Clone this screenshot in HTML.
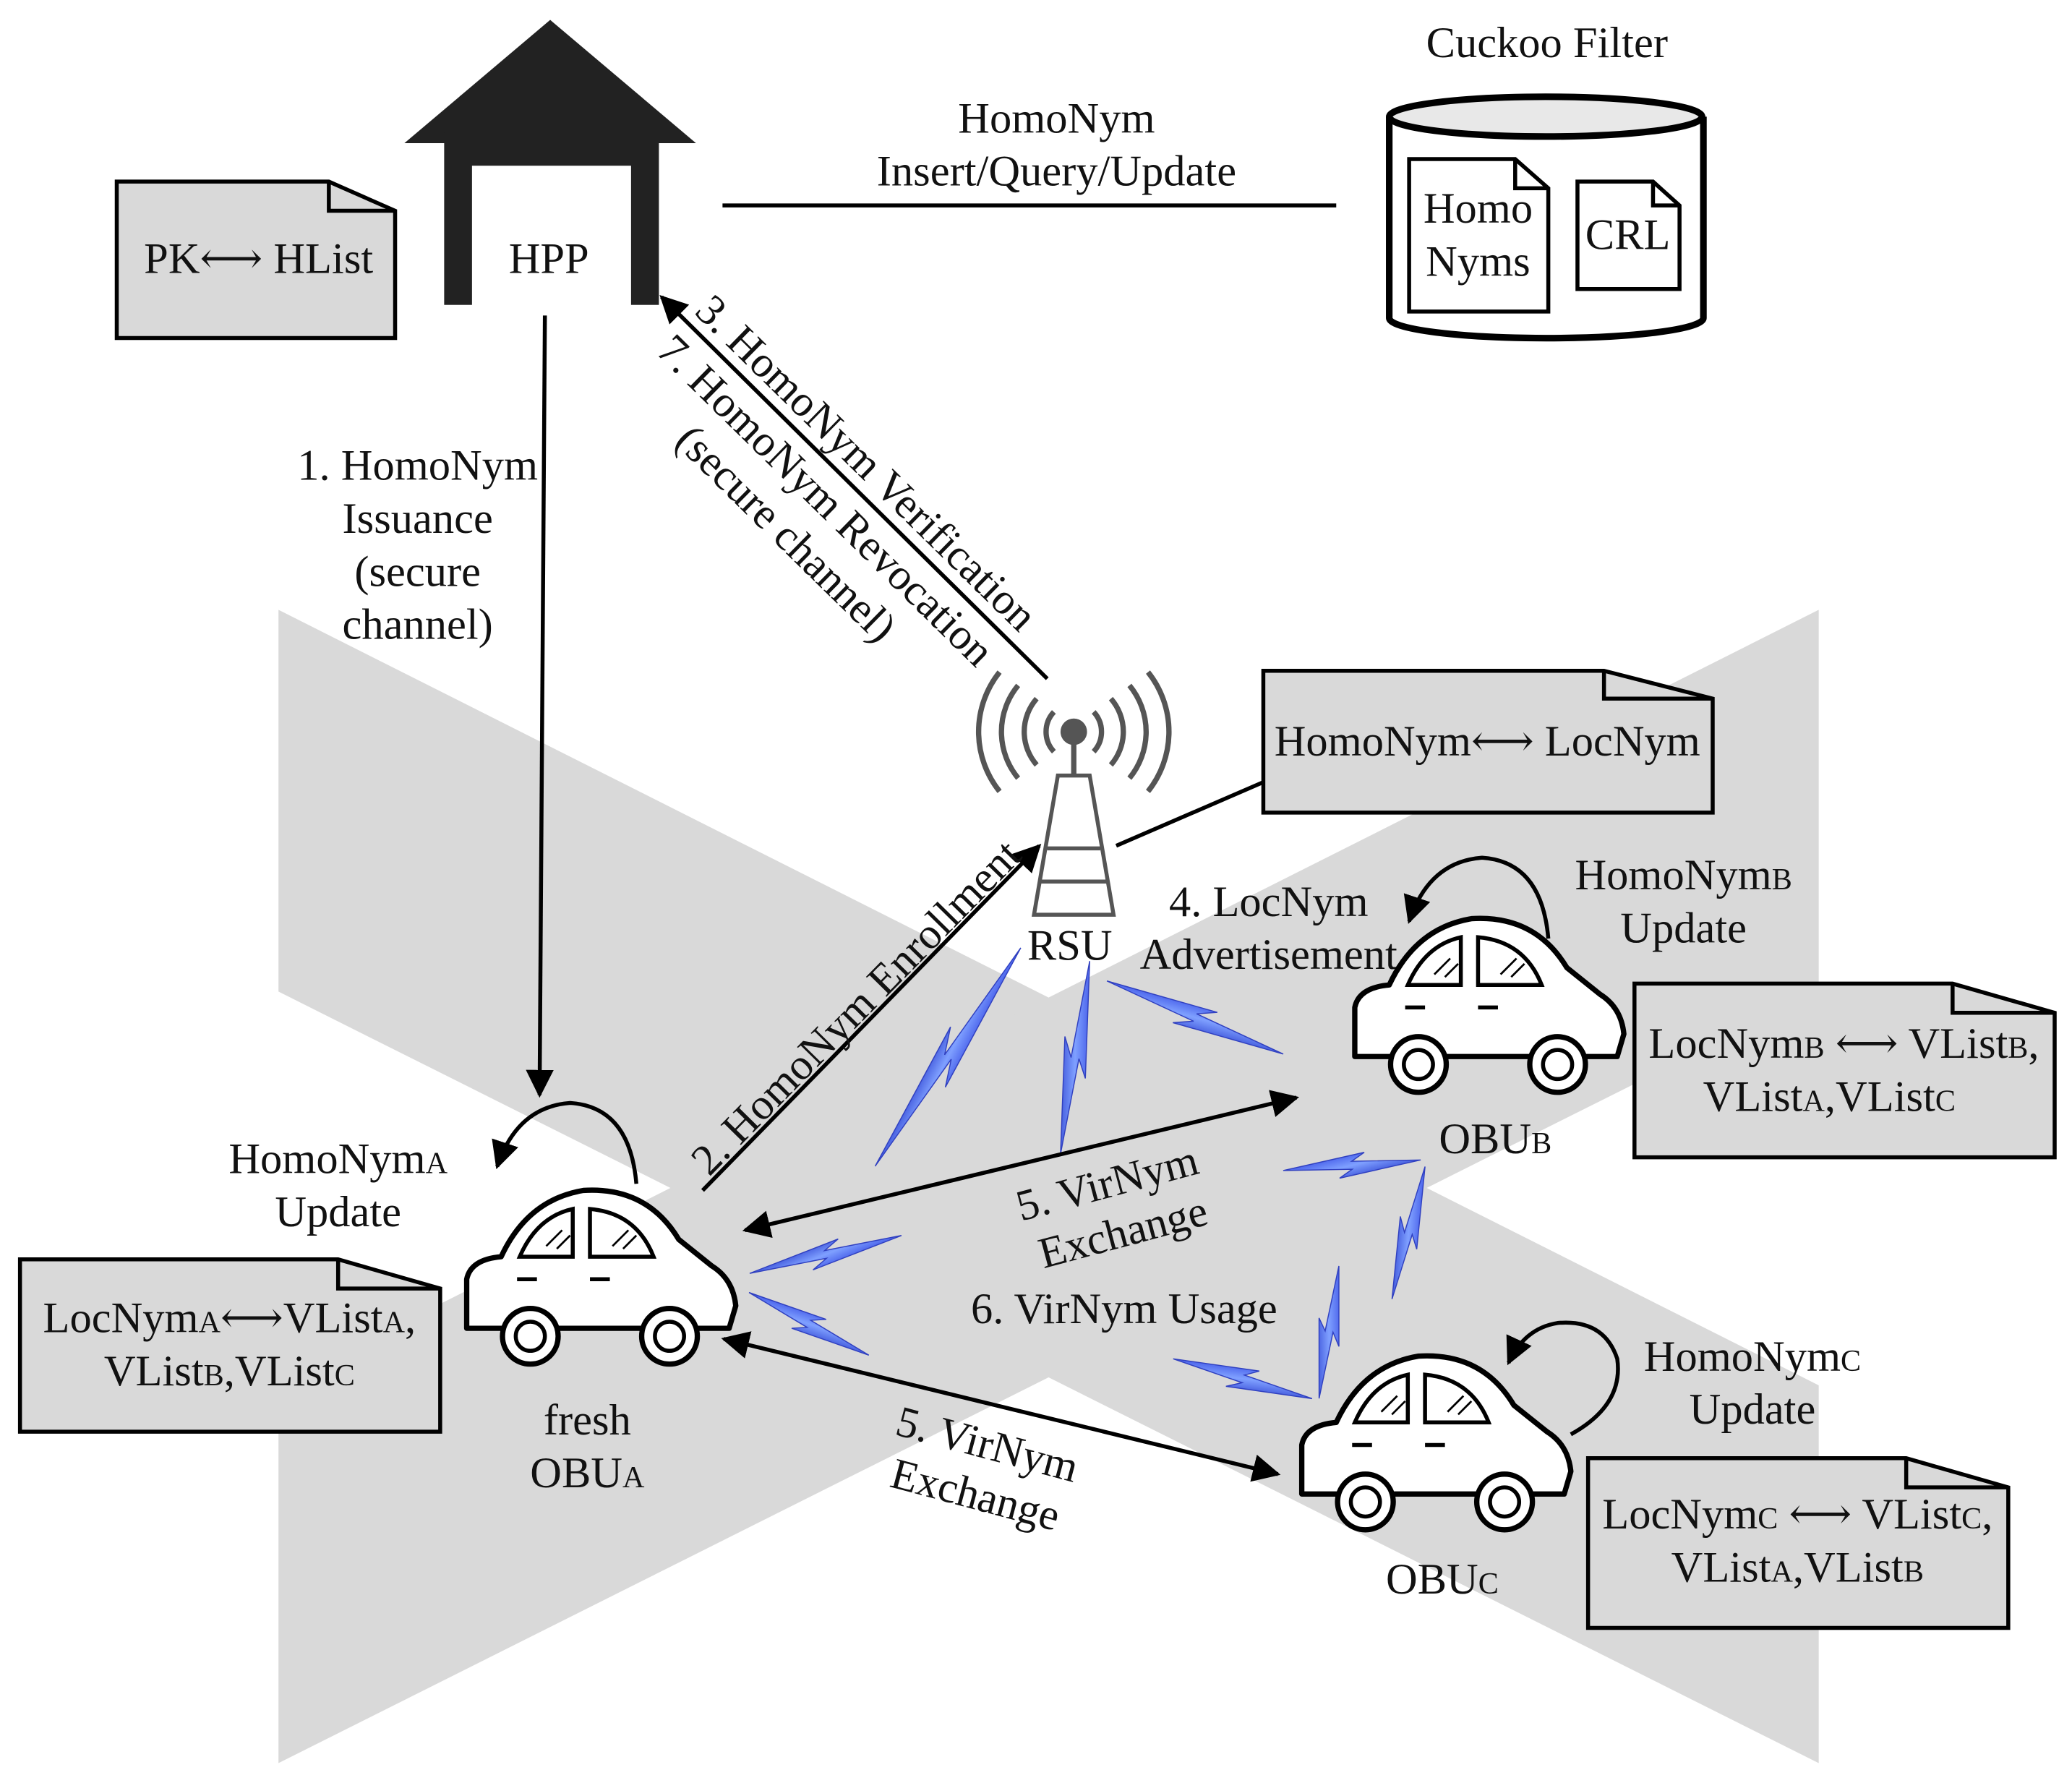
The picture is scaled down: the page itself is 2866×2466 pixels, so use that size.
<!DOCTYPE html>
<html><head><meta charset="utf-8"><style>
html,body{margin:0;padding:0;background:#fff}
svg{display:block}
text{font-family:"Liberation Serif","DejaVu Serif",serif;font-size:33px;fill:#111}
.s{font-size:23px}
</style></head><body>
<svg width="2866" height="2466" viewBox="0 0 1563 1345" xmlns="http://www.w3.org/2000/svg">
<defs>
<marker id="ah" viewBox="0 0 10 10" refX="9" refY="5" markerWidth="7" markerHeight="7" orient="auto-start-reverse" markerUnits="strokeWidth"><path d="M0,0 L10,5 L0,10 Z" fill="#000"/></marker>
<linearGradient id="bg" x1="0" y1="0" x2="1" y2="1"><stop offset="0" stop-color="#1a2bd8"/><stop offset="0.5" stop-color="#7fa0ff"/><stop offset="1" stop-color="#1020c0"/></linearGradient>
<g id="car">
<path d="M362,1002 L352,1002 L352,965 Q355,950 378,948 Q398,905 440,898 Q488,895 512,935 L537,955 Q553,965 555,985 L550,1002 Z" fill="#fff" stroke="#000" stroke-width="4" stroke-linejoin="round"/>
<path d="M392,948 L432,948 L432,912 Q405,918 392,948 Z M445,948 L493,948 Q480,915 445,912 Z" fill="#fff" stroke="#000" stroke-width="3"/>
<path d="M412,940 L424,928 M420,942 L430,932 M462,940 L474,928 M470,942 L480,932" stroke="#000" stroke-width="1.5"/>
<path d="M390,965 H405 M445,965 H460" stroke="#000" stroke-width="3"/>
<circle cx="400" cy="1008" r="21" fill="#fff" stroke="#000" stroke-width="4"/>
<circle cx="400" cy="1008" r="11" fill="#fff" stroke="#000" stroke-width="3"/>
<circle cx="505" cy="1008" r="21" fill="#fff" stroke="#000" stroke-width="4"/>
<circle cx="505" cy="1008" r="11" fill="#fff" stroke="#000" stroke-width="3"/>
</g>
</defs>
<rect width="1563" height="1345" fill="#fff"/>
<polygon points="210,460 1372,1045 1372,1330 210,748" fill="#d9d9d9"/>
<polygon points="1372,460 1372,748 210,1330 210,1045" fill="#d9d9d9"/>

<polygon points="305,108 415,15 525,108" fill="#222"/>
<rect x="335" y="100" width="162" height="130" fill="#222"/>
<rect x="356" y="125" width="120" height="110" fill="#fff"/>
<text x="414" y="206" text-anchor="middle">HPP</text>

<path d="M88,137 H248 L298,159 V255 H88 Z" fill="#d9d9d9" stroke="#000" stroke-width="3"/>
<path d="M248,137 V159 H298" fill="none" stroke="#000" stroke-width="3"/>
<text x="195" y="206" text-anchor="middle">PK⟷ HList</text>

<text x="1167" y="43" text-anchor="middle">Cuckoo Filter</text>
<path d="M1048,88 V240 A118,15 0 0 0 1285,240 V88" fill="#fff" stroke="#000" stroke-width="5"/>
<ellipse cx="1166" cy="88" rx="118" ry="15" fill="#e8e8e8" stroke="#000" stroke-width="5"/>
<path d="M1063,120 H1143 L1168,142 V235 H1063 Z" fill="#fff" stroke="#000" stroke-width="3"/>
<path d="M1143,120 V142 H1168" fill="none" stroke="#000" stroke-width="3"/>
<text x="1115" y="168" text-anchor="middle">Homo</text>
<text x="1115" y="208" text-anchor="middle">Nyms</text>
<path d="M1190,137 H1247 L1267,155 V218 H1190 Z" fill="#fff" stroke="#000" stroke-width="3"/>
<path d="M1247,137 V155 H1267" fill="none" stroke="#000" stroke-width="3"/>
<text x="1228" y="188" text-anchor="middle">CRL</text>

<line x1="545" y1="155" x2="1008" y2="155" stroke="#000" stroke-width="3"/>
<text x="797" y="100" text-anchor="middle">HomoNym</text>
<text x="797" y="140" text-anchor="middle">Insert/Query/Update</text>

<line x1="411" y1="238" x2="407" y2="826" stroke="#000" stroke-width="3" marker-end="url(#ah)"/>
<text x="315" y="362" text-anchor="middle">1. HomoNym</text>
<text x="315" y="402" text-anchor="middle">Issuance</text>
<text x="315" y="442" text-anchor="middle">(secure</text>
<text x="315" y="482" text-anchor="middle">channel)</text>

<line x1="790" y1="512" x2="499" y2="224" stroke="#000" stroke-width="3" marker-end="url(#ah)"/>
<text transform="translate(523,236) rotate(44.5)">3. HomoNym Verification</text>
<text transform="translate(494,266) rotate(44.5)">7. HomoNym Revocation</text>
<text transform="translate(508,334) rotate(44.5)">(secure channel)</text>

<g fill="none" stroke="#555" stroke-width="4">
<path d="M795,537 A22,22 0 0 0 795,567 M825,537 A22,22 0 0 1 825,567"/>
<path d="M782,527 A38,38 0 0 0 782,577 M838,527 A38,38 0 0 1 838,577"/>
<path d="M768,517 A55,55 0 0 0 768,587 M852,517 A55,55 0 0 1 852,587"/>
<path d="M754,507 A72,72 0 0 0 754,597 M866,507 A72,72 0 0 1 866,597"/>
</g>
<circle cx="810" cy="552" r="10" fill="#555"/>
<line x1="810" y1="552" x2="810" y2="585" stroke="#555" stroke-width="4"/>
<path d="M780,690 L798,585 H822 L840,690 Z M790,640 H830 M785,665 H835" fill="#fff" stroke="#555" stroke-width="3"/>
<text x="807" y="724" text-anchor="middle">RSU</text>

<line x1="842" y1="638" x2="953" y2="590" stroke="#000" stroke-width="3"/>
<path d="M953,506 H1210 L1292,527 V613 H953 Z" fill="#d9d9d9" stroke="#000" stroke-width="3"/>
<path d="M1210,506 V527 H1292" fill="none" stroke="#000" stroke-width="3"/>
<text x="1122" y="570" text-anchor="middle">HomoNym⟷ LocNym</text>

<line x1="530" y1="898" x2="784" y2="638" stroke="#000" stroke-width="3" marker-end="url(#ah)"/>
<text transform="translate(535,888) rotate(-45.5)">2. HomoNym Enrollment</text>

<text x="957" y="691" text-anchor="middle">4. LocNym</text>
<text x="957" y="731" text-anchor="middle">Advertisement</text>

<g fill="url(#bg)" stroke="#3040c0" stroke-width="0.8">
<polygon transform="translate(770,715) rotate(123.7)" points="0,0 119,-11 99,-3 198,0 79,11 99,3"/>
<polygon transform="translate(822,725) rotate(98.6)" points="0,0 88,-10 74,-3 147,0 59,10 74,3"/>
<polygon transform="translate(835,740) rotate(22.5)" points="0,0 86,-10 72,-3 144,0 58,10 72,3"/>
<polygon transform="translate(968,883) rotate(-4.4)" points="0,0 62,-9 52,-3 104,0 42,9 52,3"/>
<polygon transform="translate(1075,880) rotate(104)" points="0,0 62,-9 52,-3 103,0 41,9 52,3"/>
<polygon transform="translate(1010,955) rotate(98.5)" points="0,0 60,-9 50,-3 101,0 41,9 50,3"/>
<polygon transform="translate(885,1025) rotate(16)" points="0,0 65,-9 55,-3 109,0 44,9 55,3"/>
<polygon transform="translate(680,932) rotate(166)" points="0,0 71,-9 59,-3 118,0 47,9 59,3"/>
<polygon transform="translate(565,975) rotate(27.6)" points="0,0 61,-9 51,-3 102,0 41,9 51,3"/>
</g>

<line x1="562" y1="928" x2="978" y2="828" stroke="#000" stroke-width="3" marker-start="url(#ah)" marker-end="url(#ah)"/>
<text transform="translate(838,903) rotate(-15)" text-anchor="middle">5. VirNym</text>
<text transform="translate(850,940) rotate(-15)" text-anchor="middle">Exchange</text>
<line x1="546" y1="1010" x2="964" y2="1112" stroke="#000" stroke-width="3" marker-start="url(#ah)" marker-end="url(#ah)"/>
<text transform="translate(742,1100) rotate(15)" text-anchor="middle">5. VirNym</text>
<text transform="translate(733,1138) rotate(15)" text-anchor="middle">Exchange</text>
<text x="848" y="998" text-anchor="middle">6. VirNym Usage</text>

<use href="#car"/>
<use href="#car" transform="translate(670,-205)"/>
<use href="#car" transform="translate(630,125)"/>

<path d="M480,893 Q475,835 430,832 Q390,835 375,880" fill="none" stroke="#000" stroke-width="3" marker-end="url(#ah)"/>
<path d="M1168,708 Q1163,650 1118,647 Q1078,650 1063,695" fill="none" stroke="#000" stroke-width="3" marker-end="url(#ah)"/>
<path d="M1185,1082 Q1225,1060 1220,1025 Q1210,995 1175,998 Q1150,1002 1138,1028" fill="none" stroke="#000" stroke-width="3" marker-end="url(#ah)"/>

<text x="255" y="885" text-anchor="middle">HomoNym<tspan class="s">A</tspan></text>
<text x="255" y="925" text-anchor="middle">Update</text>
<path d="M15,950 H255 L332,972 V1080 H15 Z" fill="#d9d9d9" stroke="#000" stroke-width="3"/>
<path d="M255,950 V972 H332" fill="none" stroke="#000" stroke-width="3"/>
<text x="173" y="1005" text-anchor="middle">LocNym<tspan class="s">A</tspan>⟷VList<tspan class="s">A</tspan>,</text>
<text x="173" y="1045" text-anchor="middle">VList<tspan class="s">B</tspan>,VList<tspan class="s">C</tspan></text>
<text x="443" y="1082" text-anchor="middle">fresh</text>
<text x="443" y="1122" text-anchor="middle">OBU<tspan class="s">A</tspan></text>

<text x="1270" y="671" text-anchor="middle">HomoNym<tspan class="s">B</tspan></text>
<text x="1270" y="711" text-anchor="middle">Update</text>
<path d="M1233,742 H1473 L1550,764 V873 H1233 Z" fill="#d9d9d9" stroke="#000" stroke-width="3"/>
<path d="M1473,742 V764 H1550" fill="none" stroke="#000" stroke-width="3"/>
<text x="1391" y="798" text-anchor="middle">LocNym<tspan class="s">B</tspan> ⟷ VList<tspan class="s">B</tspan>,</text>
<text x="1380" y="838" text-anchor="middle">VList<tspan class="s">A</tspan>,VList<tspan class="s">C</tspan></text>
<text x="1128" y="870" text-anchor="middle">OBU<tspan class="s">B</tspan></text>

<text x="1322" y="1034" text-anchor="middle">HomoNym<tspan class="s">C</tspan></text>
<text x="1322" y="1074" text-anchor="middle">Update</text>
<path d="M1198,1100 H1438 L1515,1122 V1228 H1198 Z" fill="#d9d9d9" stroke="#000" stroke-width="3"/>
<path d="M1438,1100 V1122 H1515" fill="none" stroke="#000" stroke-width="3"/>
<text x="1356" y="1153" text-anchor="middle">LocNym<tspan class="s">C</tspan> ⟷ VList<tspan class="s">C</tspan>,</text>
<text x="1356" y="1193" text-anchor="middle">VList<tspan class="s">A</tspan>,VList<tspan class="s">B</tspan></text>
<text x="1088" y="1202" text-anchor="middle">OBU<tspan class="s">C</tspan></text>
</svg>
</body></html>
